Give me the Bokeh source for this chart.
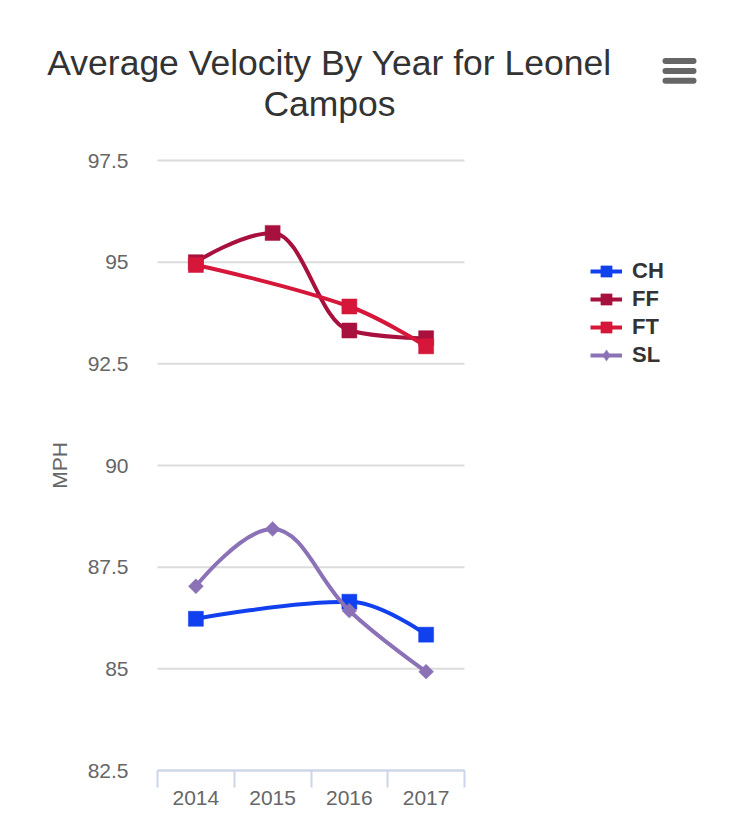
import math
from bokeh.plotting import figure
from bokeh.models import (Range1d, FixedTicker, Legend, LegendItem, Label,
                          BoxAnnotation, ColumnDataSource)
from bokeh.embed import file_html
from bokeh.resources import INLINE

# ---------------- data ----------------
title_lines = ["Average Velocity By Year for Leonel", "Campos"]
years = ["2014", "2015", "2016", "2017"]
series_names = ["CH", "FF", "FT", "SL"]
ch = [86.23, None, 86.65, 85.84]
ff = [95.00, 95.72, 93.32, 93.13]
ft = [94.93, None, 93.91, 92.93]
sl = [87.03, 88.44, 86.43, 84.93]
series_colors = ["#1140ee", "#a8113d", "#d6173a", "#8b72b6"]
series_markers = ["square", "square", "square", "diamond"]
y_ticks = [82.5, 85, 87.5, 90, 92.5, 95, 97.5]
y_tick_labels = ["82.5", "85", "87.5", "90", "92.5", "95", "97.5"]
y_axis_title = "MPH"

FONT = "Liberation Sans"


def spline_segments(xs, ys):
    """Highcharts-style spline control points for consecutive (non-null) points."""
    pts = [(x, y) for x, y in zip(xs, ys) if y is not None]
    n = len(pts)
    left = list(pts)
    right = list(pts)
    sm, den = 1.5, 2.5
    for i in range(1, n - 1):
        (lx, ly), (px, py), (nx, ny) = pts[i - 1], pts[i], pts[i + 1]
        lcx, lcy = (sm * px + lx) / den, (sm * py + ly) / den
        rcx, rcy = (sm * px + nx) / den, (sm * py + ny) / den
        corr = 0.0
        if rcx != lcx:
            corr = (rcy - lcy) * (rcx - px) / (rcx - lcx) + py - rcy
        lcy += corr
        rcy += corr
        if lcy > ly and lcy > py:
            lcy = max(ly, py)
            rcy = 2 * py - lcy
        elif lcy < ly and lcy < py:
            lcy = min(ly, py)
            rcy = 2 * py - lcy
        if rcy > ny and rcy > py:
            rcy = max(ny, py)
            lcy = 2 * py - rcy
        elif rcy < ny and rcy < py:
            rcy = min(ny, py)
            lcy = 2 * py - rcy
        left[i] = (lcx, lcy)
        right[i] = (rcx, rcy)
    seg = dict(x0=[], y0=[], x1=[], y1=[], cx0=[], cy0=[], cx1=[], cy1=[])
    for i in range(1, n):
        seg["x0"].append(pts[i - 1][0]); seg["y0"].append(pts[i - 1][1])
        seg["cx0"].append(right[i - 1][0]); seg["cy0"].append(right[i - 1][1])
        seg["cx1"].append(left[i][0]); seg["cy1"].append(left[i][1])
        seg["x1"].append(pts[i][0]); seg["y1"].append(pts[i][1])
    return seg, pts


# ---------------- layout constants (canvas px) ----------------
W, H = 734, 824
FL, FR = 0, 724            # frame spans the canvas width (axis drawn inside it)
PLOT_L, PLOT_R = 157, 464  # left / right ends of the category axis
PLOT_T, PLOT_B = 160, 770  # pixel rows of the top and bottom y ticks
FB = 782                   # frame bottom (room for the lowest tick label)
TICK_END = 787             # lower end of the category separator ticks
ncat = len(years)
ppc = (PLOT_R - PLOT_L) / ncat
x_start = -(PLOT_L - FL) / ppc
x_end = (FR - PLOT_L) / ppc
ppu = (PLOT_B - PLOT_T) / (y_ticks[-1] - y_ticks[0])
y_start = y_ticks[0] - (FB - PLOT_B) / ppu
y_end = y_ticks[-1] + PLOT_T / ppu
TXT_DY = 12 / 35           # measured baseline correction of Label text (em)

p = figure(width=W, height=H, output_backend="svg", toolbar_location=None,
           x_range=Range1d(x_start, x_end), y_range=Range1d(y_start, y_end),
           min_border_left=FL, min_border_right=W - FR, min_border_top=0,
           min_border_bottom=H - FB)
p.outline_line_color = None
p.background_fill_color = "white"
p.border_fill_color = "white"
p.xgrid.visible = False
p.ygrid.visible = False

# ---- axes ----
centers = [i + 0.5 for i in range(ncat)]
bounds = [float(i) for i in range(ncat + 1)]
p.xaxis.ticker = FixedTicker(ticks=centers, minor_ticks=bounds)
p.xaxis.major_label_overrides = {c: y for c, y in zip(centers, years)}
p.xaxis.axis_line_color = None
p.xaxis.major_tick_line_color = None
p.xaxis.major_tick_out = 0
p.xaxis.major_tick_in = 0
p.xaxis.minor_tick_line_color = "#ccd6eb"
p.xaxis.minor_tick_line_width = 2
p.xaxis.minor_tick_out = TICK_END - FB
p.xaxis.minor_tick_in = FB - PLOT_B
p.xaxis.major_label_standoff = 3 + (772 + 15) - (FB + TICK_END - FB)
p.xaxis.major_label_text_font = FONT
p.xaxis.major_label_text_font_size = "21px"
p.xaxis.major_label_text_color = "#666666"

p.yaxis.fixed_location = 0
p.yaxis.ticker = FixedTicker(ticks=y_ticks)
p.yaxis.major_label_overrides = {t: l for t, l in zip(y_ticks, y_tick_labels)}
p.yaxis.axis_line_color = None
p.yaxis.major_tick_line_color = None
p.yaxis.minor_tick_line_color = None
p.yaxis.major_tick_out = 0
p.yaxis.major_tick_in = 0
p.yaxis.major_label_standoff = 29
p.yaxis.major_label_text_font = FONT
p.yaxis.major_label_text_font_size = "21px"
p.yaxis.major_label_text_color = "#666666"

# y-axis title (rotated), centred on the plotting band
p.add_layout(Label(x=66 - TXT_DY * 21, y=FB - (PLOT_T + PLOT_B) / 2,
                   x_units="screen", y_units="screen", text=y_axis_title,
                   angle=math.pi / 2, text_align="center",
                   text_baseline="alphabetic", text_font=FONT,
                   text_font_size="21px", text_color="#666666"))

# horizontal grid lines and category-axis line, limited to the category span
p.segment(x0=[0] * len(y_ticks), x1=[ncat] * len(y_ticks), y0=y_ticks, y1=y_ticks,
          line_color="#dcdcdc", line_width=2)
p.segment(x0=[0], x1=[ncat], y0=[y_ticks[0]], y1=[y_ticks[0]],
          line_color="#ccd6eb", line_width=2)

# ---- series ----
legend_items = []
for name, vals, color, marker in zip(series_names, [ch, ff, ft, sl],
                                     series_colors, series_markers):
    seg, pts = spline_segments(centers, vals)
    p.bezier(source=ColumnDataSource(seg), x0="x0", y0="y0", x1="x1", y1="y1",
             cx0="cx0", cy0="cy0", cx1="cx1", cy1="cy1",
             line_color=color, line_width=4, line_cap="round")
    px = [q[0] for q in pts]
    py = [q[1] for q in pts]
    if marker == "diamond":
        p.scatter(px, py, marker="square", size=10.5, angle=math.pi / 4,
                  fill_color=color, line_color=color, line_width=0.5)
    else:
        p.scatter(px, py, marker="square", size=15,
                  fill_color=color, line_color=color, line_width=0.5)
    # legend swatches (a single NaN point: nothing drawn in the plot)
    lr = p.line(x=[float("nan")], y=[float("nan")], line_color=color, line_width=4)
    mr = p.scatter(x=[float("nan")], y=[float("nan")], marker=marker,
                   fill_color=color, line_color=color, line_width=0.5)
    legend_items.append(LegendItem(label=name, renderers=[lr, mr]))

legend = Legend(items=legend_items, location=(590 - FL, FB - 369),
                orientation="vertical",
                glyph_width=32, glyph_height=28, label_height=28, spacing=0,
                label_standoff=10, padding=0, margin=0,
                border_line_color=None, background_fill_alpha=0,
                label_text_font=FONT, label_text_font_size="22px",
                label_text_font_style="bold", label_text_color="#333333")
p.add_layout(legend, "center")

# ---- title: two centred lines ----
TITLE_CX = 329
TITLE_FS = 35.5
for txt, base in zip(title_lines, [75, 116]):
    p.add_layout(Label(x=TITLE_CX - FL, y=FB - base + TXT_DY * TITLE_FS,
                       x_units="screen", y_units="screen", text=txt,
                       text_align="center", text_baseline="alphabetic",
                       text_font=FONT, text_font_size=f"{TITLE_FS}px",
                       text_color="#333333"))

# ---- context-menu icon (three rounded bars) ----
for top in [57.5, 67.5, 77.3]:
    p.add_layout(BoxAnnotation(left=662 - FL, right=696 - FL,
                               top=FB - top, bottom=FB - top - 6,
                               left_units="screen", right_units="screen",
                               top_units="screen", bottom_units="screen",
                               fill_color="#666666", fill_alpha=1,
                               line_color=None, border_radius=3))

open("out.html", "w").write(file_html(p, INLINE))
